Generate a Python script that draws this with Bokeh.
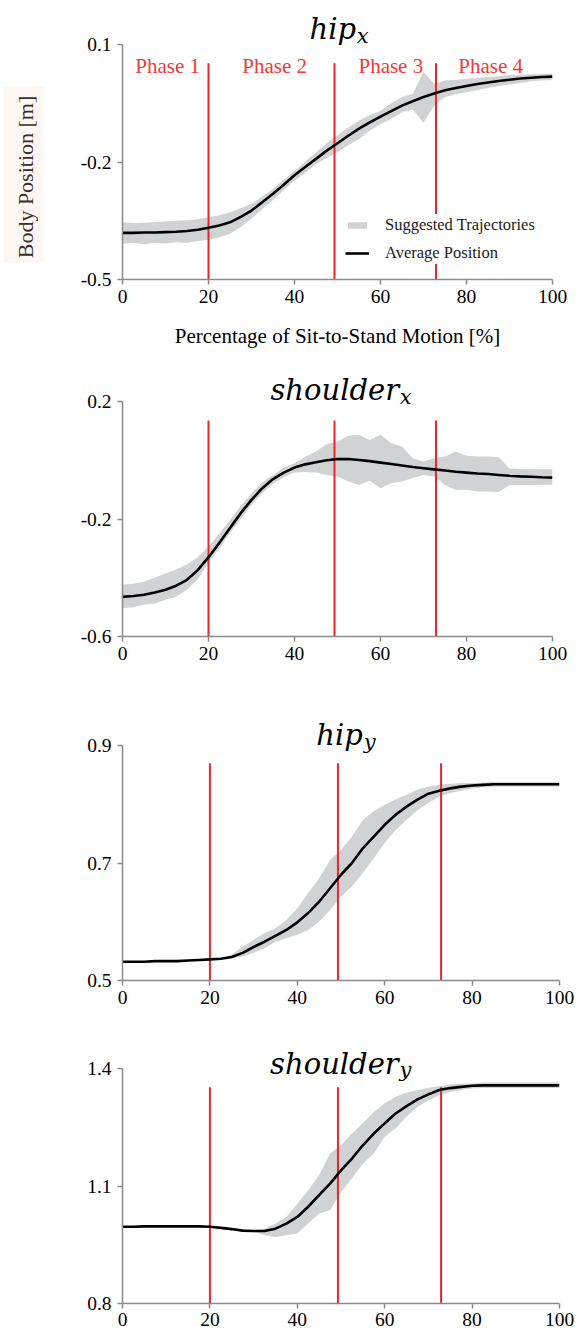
import math
from bokeh.plotting import figure
from bokeh.models import Range1d, FixedTicker, Legend, LegendItem, CustomJSTickFormatter
from bokeh.layouts import column, row
from bokeh.embed import file_html
from bokeh.resources import INLINE
from bokeh.core.properties import value

# ---------------- data ----------------
X = [0, 2.5, 5, 7.5, 10, 12.5, 15, 17.5, 20, 22.5, 25, 27.5, 30, 32.5, 35, 37.5, 40,
     42.5, 45, 47.5, 50, 52.5, 55, 57.5, 60, 62.5, 65, 67.5, 70, 72.5, 75, 77.5, 80,
     82.5, 85, 87.5, 90, 92.5, 95, 97.5, 100]

phase_bounds = [20, 49.3, 72.9]
phase_names = ["Phase 1", "Phase 2", "Phase 3", "Phase 4"]
phase_label_x = [10.5, 35.4, 62.4, 85.6]

titles_main = ["hip", "shoulder", "hip", "shoulder"]
titles_sub = ["x", "x", "y", "y"]
y_title = "Body Position [m]"
x_title = "Percentage of Sit-to-Stand Motion [%]"

y_ranges = [(-0.5, 0.1), (-0.6, 0.2), (0.5, 0.9), (0.8, 1.4)]
y_ticks = [[-0.5, -0.2, 0.1], [-0.6, -0.2, 0.2], [0.5, 0.7, 0.9], [0.8, 1.1, 1.4]]
x_ticks = [0, 20, 40, 60, 80, 100]
line_tops = [0.052, 0.135, 0.870, 1.352]

# hip_x
hipx_mean = [-0.381, -0.381, -0.380, -0.380, -0.379, -0.378, -0.376, -0.373, -0.368, -0.362,
             -0.354, -0.340, -0.324, -0.303, -0.281, -0.258, -0.234, -0.213, -0.192, -0.171,
             -0.152, -0.133, -0.115, -0.099, -0.084, -0.070, -0.056, -0.045, -0.034, -0.025,
             -0.017, -0.011, -0.006, -0.001, 0.003, 0.007, 0.010, 0.013, 0.015, 0.017, 0.018]
hipx_up = [-0.354, -0.356, -0.355, -0.353, -0.352, -0.350, -0.349, -0.346, -0.341, -0.336,
           -0.328, -0.318, -0.307, -0.288, -0.268, -0.245, -0.223, -0.199, -0.175, -0.152,
           -0.132, -0.112, -0.094, -0.080, -0.069, -0.050, -0.034, -0.026, 0.030, 0.000,
           0.008, 0.010, 0.012, 0.015, 0.017, 0.019, 0.022, 0.023, 0.024, 0.025, 0.026]
hipx_lo = [-0.409, -0.407, -0.410, -0.406, -0.408, -0.405, -0.406, -0.402, -0.399, -0.392,
           -0.383, -0.366, -0.345, -0.320, -0.297, -0.272, -0.247, -0.228, -0.205, -0.190,
           -0.175, -0.157, -0.141, -0.120, -0.103, -0.090, -0.073, -0.066, -0.100, -0.056,
           -0.034, -0.027, -0.022, -0.016, -0.011, -0.006, -0.002, 0.002, 0.006, 0.008, 0.010]

# shoulder_x
shx_mean = [-0.465, -0.462, -0.458, -0.450, -0.441, -0.427, -0.407, -0.374, -0.330, -0.282,
            -0.231, -0.180, -0.135, -0.095, -0.064, -0.042, -0.025, -0.014, -0.007, 0.000,
            0.004, 0.004, 0.001, -0.003, -0.008, -0.013, -0.018, -0.023, -0.027, -0.031,
            -0.035, -0.039, -0.042, -0.045, -0.047, -0.050, -0.053, -0.055, -0.056, -0.058, -0.059]
shx_up = [-0.424, -0.420, -0.413, -0.400, -0.385, -0.372, -0.355, -0.330, -0.294, -0.250,
          -0.203, -0.155, -0.112, -0.075, -0.050, -0.025, -0.010, 0.012, 0.030, 0.055,
          0.064, 0.083, 0.087, 0.069, 0.087, 0.058, 0.047, 0.007, -0.004, 0.007,
          0.013, 0.030, 0.015, 0.013, 0.013, 0.010, -0.028, -0.030, -0.031, -0.031, -0.031]
shx_lo = [-0.504, -0.500, -0.492, -0.488, -0.475, -0.465, -0.441, -0.405, -0.350, -0.300,
          -0.248, -0.200, -0.152, -0.112, -0.080, -0.058, -0.042, -0.040, -0.042, -0.050,
          -0.055, -0.072, -0.084, -0.070, -0.095, -0.078, -0.072, -0.060, -0.050, -0.055,
          -0.084, -0.101, -0.100, -0.106, -0.106, -0.108, -0.085, -0.084, -0.084, -0.083, -0.083]

# hip_y
hipy_mean = [0.532, 0.532, 0.532, 0.533, 0.533, 0.533, 0.534, 0.535, 0.536, 0.537,
             0.540, 0.547, 0.557, 0.566, 0.576, 0.586, 0.599, 0.615, 0.634, 0.657,
             0.680, 0.700, 0.725, 0.745, 0.765, 0.782, 0.796, 0.808, 0.818, 0.823,
             0.827, 0.830, 0.832, 0.833, 0.834, 0.834, 0.834, 0.834, 0.834, 0.834, 0.834]
hipy_up = [0.533, 0.533, 0.533, 0.534, 0.534, 0.534, 0.535, 0.536, 0.537, 0.538,
           0.544, 0.558, 0.569, 0.581, 0.589, 0.603, 0.623, 0.649, 0.674, 0.705,
           0.722, 0.745, 0.773, 0.788, 0.799, 0.808, 0.816, 0.825, 0.830, 0.833,
           0.835, 0.836, 0.836, 0.837, 0.838, 0.838, 0.838, 0.838, 0.838, 0.838, 0.838]
hipy_lo = [0.531, 0.531, 0.531, 0.532, 0.532, 0.532, 0.533, 0.534, 0.535, 0.536,
           0.538, 0.541, 0.547, 0.555, 0.566, 0.572, 0.578, 0.586, 0.600, 0.620,
           0.643, 0.660, 0.683, 0.708, 0.734, 0.756, 0.773, 0.790, 0.802, 0.813,
           0.819, 0.823, 0.827, 0.829, 0.830, 0.830, 0.830, 0.830, 0.830, 0.830, 0.830]

# shoulder_y
shy_mean = [0.996, 0.996, 0.997, 0.997, 0.997, 0.997, 0.997, 0.997, 0.996, 0.993,
            0.990, 0.986, 0.985, 0.985, 0.991, 1.004, 1.021, 1.047, 1.077, 1.106,
            1.140, 1.170, 1.204, 1.234, 1.260, 1.285, 1.304, 1.321, 1.334, 1.345,
            1.350, 1.353, 1.356, 1.357, 1.357, 1.357, 1.357, 1.357, 1.357, 1.357, 1.357]
shy_up = [0.997, 0.997, 0.998, 0.998, 0.998, 0.998, 0.998, 0.998, 0.997, 0.994,
          0.991, 0.988, 0.987, 0.991, 1.004, 1.021, 1.055, 1.089, 1.128, 1.183,
          1.204, 1.234, 1.260, 1.289, 1.311, 1.328, 1.338, 1.345, 1.351, 1.355,
          1.359, 1.361, 1.362, 1.364, 1.364, 1.364, 1.364, 1.364, 1.364, 1.364, 1.364]
shy_lo = [0.995, 0.995, 0.996, 0.996, 0.996, 0.996, 0.996, 0.996, 0.995, 0.992,
          0.989, 0.984, 0.983, 0.974, 0.970, 0.974, 0.979, 1.004, 1.030, 1.038,
          1.085, 1.119, 1.157, 1.183, 1.226, 1.247, 1.277, 1.302, 1.319, 1.332,
          1.340, 1.345, 1.349, 1.350, 1.350, 1.350, 1.350, 1.350, 1.350, 1.350, 1.350]

means = [hipx_mean, shx_mean, hipy_mean, shy_mean]
uppers = [hipx_up, shx_up, hipy_up, shy_up]
lowers = [hipx_lo, shx_lo, hipy_lo, shy_lo]

# ---------------- styling / layout ----------------
SERIF = "Liberation Serif"
MATH = "DejaVu Serif"
AXIS_COL = "#8a8a8a"
BAND_COL = "#d1d2d4"
RED = "#e8272b"

LABEL_W = 53  # width of the strip holding the y-axis title (left of panel 1)
layout_specs = [
    dict(fw=430, left=122 - LABEL_W, right=31, head=44, bottom=70, tx=54.3, mo=16, so=9, st=5),
    dict(fw=430, left=122, right=31, head=51, bottom=54, tx=64.3, mo=12, so=5, st=5),
    dict(fw=437, left=114, right=32, head=55, bottom=40, tx=55.0, mo=11, so=4, st=5),
    dict(fw=437, left=114, right=32, head=48, bottom=32, tx=63.2, mo=5, so=-1, st=4),
]
FH = 235

figs = []
for i in range(4):
    s = layout_specs[i]
    lo, hi = y_ranges[i]
    upp = (hi - lo) / FH  # data units per pixel
    p = figure(frame_width=s["fw"], frame_height=FH + s["head"],
               min_border_left=s["left"], min_border_right=s["right"],
               min_border_top=0, min_border_bottom=s["bottom"],
               x_range=Range1d(0, 100), y_range=Range1d(lo, hi + s["head"] * upp),
               output_backend="svg", toolbar_location=None)
    p.outline_line_color = None
    p.grid.visible = False
    p.background_fill_color = "white"
    p.border_fill_color = "white"

    for ax in (p.xaxis[0], p.yaxis[0]):
        ax.axis_line_color = AXIS_COL
        ax.axis_line_width = 1.5
        ax.major_tick_line_color = AXIS_COL
        ax.major_tick_line_width = 1.5
        ax.major_tick_out = 5
        ax.major_tick_in = 0
        ax.minor_tick_line_color = None
        ax.major_label_text_font = SERIF
        ax.major_label_text_font_size = "19.5px"
        ax.major_label_text_color = "black"
    p.xaxis.ticker = FixedTicker(ticks=x_ticks)
    p.yaxis.ticker = FixedTicker(ticks=y_ticks[i])
    p.yaxis.bounds = (lo, hi)
    p.yaxis.formatter = CustomJSTickFormatter(code="return tick.toFixed(1);")
    p.xaxis.major_label_standoff = s["st"]
    p.yaxis.major_label_standoff = 6

    band = p.varea(x=X, y1=lowers[i], y2=uppers[i], fill_color=BAND_COL, fill_alpha=1.0)
    p.segment(x0=phase_bounds, y0=[lo] * 3, x1=phase_bounds, y1=[line_tops[i]] * 3,
              line_color=RED, line_width=2)
    mean_r = p.line(x=X, y=means[i], line_color="black", line_width=2.6)

    # panel title: main word + subscript
    p.text(x=[s["tx"]], y=[hi + s["mo"] * upp], text=[titles_main[i]],
           text_font=value(MATH), text_font_style="italic",
           text_font_size=value("29px"), text_align="right", text_baseline="alphabetic",
           text_color="black")
    p.text(x=[s["tx"] + 0.2], y=[hi + s["so"] * upp], text=[titles_sub[i]],
           text_font=value(MATH), text_font_style="italic",
           text_font_size=value("21px"), text_align="left", text_baseline="alphabetic",
           text_color="black")

    if i == 0:
        p.text(x=phase_label_x, y=[0.044] * 4, text=phase_names,
               text_font=value(SERIF), text_font_size=value("21px"),
               text_color="#f0393b", text_align="center", text_baseline="alphabetic")
        p.xaxis.axis_label = x_title
        p.xaxis.axis_label_text_font = SERIF
        p.xaxis.axis_label_text_font_style = "normal"
        p.xaxis.axis_label_text_font_size = "21px"
        p.xaxis.axis_label_text_color = "black"
        p.xaxis.axis_label_standoff = 18
        legend = Legend(items=[LegendItem(label="Suggested Trajectories", renderers=[band]),
                               LegendItem(label="Average Position", renderers=[mean_r])],
                        location=(223, 15))
        legend.background_fill_color = "white"
        legend.background_fill_alpha = 1.0
        legend.border_line_color = None
        legend.label_text_font = SERIF
        legend.label_text_font_size = "16.5px"
        legend.label_text_color = "#1a1a1a"
        legend.glyph_width = 24
        legend.glyph_height = 8
        legend.label_height = 22
        legend.label_standoff = 16
        legend.spacing = 6
        legend.padding = 2
        legend.margin = 0
        p.add_layout(legend)
    figs.append(p)

# strip with the rotated y-axis title, drawn in a pixel-scaled frame
H1 = FH + layout_specs[0]["head"] + layout_specs[0]["bottom"]
lab = figure(frame_width=LABEL_W, frame_height=H1, min_border=0,
             x_range=Range1d(0, LABEL_W), y_range=Range1d(0, H1),
             x_axis_type=None, y_axis_type=None,
             output_backend="svg", toolbar_location=None)
lab.outline_line_color = None
lab.grid.visible = False
lab.background_fill_color = "white"
lab.border_fill_color = "white"
lab.quad(left=[3], right=[43], bottom=[H1 - 262], top=[H1 - 86],
         fill_color="#fcf7f2", line_color=None)
lab.text(x=[25], y=[H1 - 176.5], text=[y_title], angle=math.pi / 2,
         text_font=value(SERIF), text_font_size=value("22px"), text_color="#3a2f28",
         text_align="center", text_baseline="middle")

page = column(row(lab, figs[0], spacing=0), *figs[1:], spacing=0)
open("out.html", "w").write(file_html(page, INLINE))
